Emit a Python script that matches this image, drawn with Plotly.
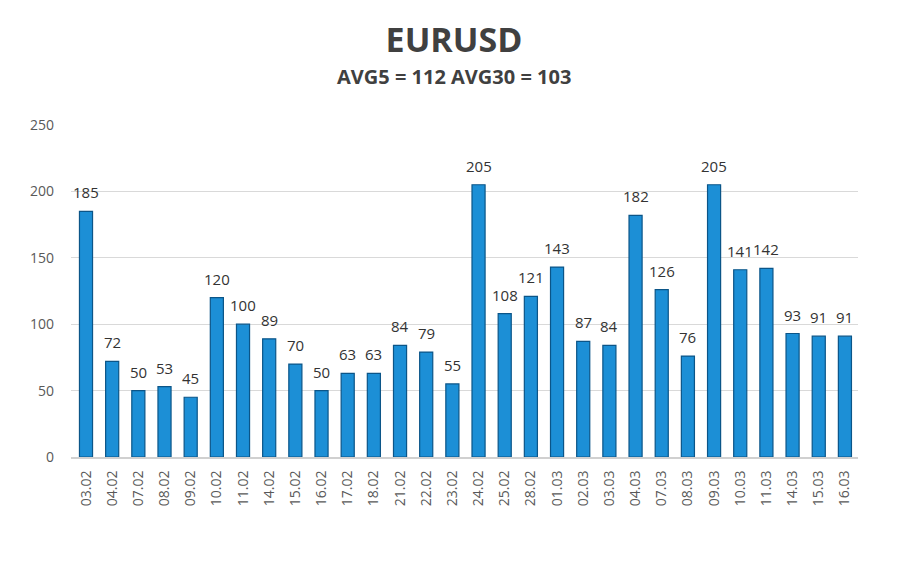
import plotly.graph_objects as go

dates = ['03.02', '04.02', '07.02', '08.02', '09.02', '10.02', '11.02', '14.02',
         '15.02', '16.02', '17.02', '18.02', '21.02', '22.02', '23.02', '24.02',
         '25.02', '28.02', '01.03', '02.03', '03.03', '04.03', '07.03', '08.03',
         '09.03', '10.03', '11.03', '14.03', '15.03', '16.03']
volatility = [185, 72, 50, 53, 45, 120, 100, 89, 70, 50, 63, 63, 84, 79, 55, 205,
              108, 121, 143, 87, 84, 182, 126, 76, 205, 141, 142, 93, 91, 91]
y_ticks = [0, 50, 100, 150, 200, 250]

fig = go.Figure(go.Bar(
    x=dates,
    y=volatility,
    width=0.5,
    marker=dict(color='#1c8fd6', line=dict(color='#0b5588', width=1.2)),
))

# value labels above the bars (x = category index)
labels = [dict(x=i, y=v, text=str(v), showarrow=False, yanchor='bottom', yshift=7,
               font=dict(size=15, color='#333333', family='Open Sans'))
          for i, v in enumerate(volatility)]

labels.append(dict(
    text='<b>AVG5 = 112 AVG30 = 103</b>', xref='paper', yref='paper',
    x=0.4867, y=1.1446, xanchor='center', yanchor='middle', showarrow=False,
    font=dict(size=20, color='#404040', family='Open Sans'),
))

fig.update_layout(
    title=dict(
        text='<b>EURUSD</b>',
        x=0.5, xanchor='center', y=0.943, yanchor='middle',
        font=dict(size=34, color='#404040', family='Open Sans'),
    ),
    width=892,
    height=562,
    margin=dict(l=63, r=42, t=117, b=113),
    paper_bgcolor='white',
    plot_bgcolor='white',
    showlegend=False,
    annotations=labels,
    xaxis=dict(
        type='category',
        tickangle=-90,
        tickfont=dict(size=14, color='#595959', family='Open Sans'),
        showline=True,
        linecolor='#d0d0d0',
        linewidth=2,
        ticks='',
        ticklabelstandoff=6,
    ),
    yaxis=dict(
        range=[0, 250],
        tickvals=y_ticks,
        tickfont=dict(size=14, color='#595959', family='Open Sans'),
        showgrid=True,
        gridcolor='#d9d9d9',
        zeroline=False,
        ticklabelstandoff=16,
    ),
)

fig.write_html("out.html")
